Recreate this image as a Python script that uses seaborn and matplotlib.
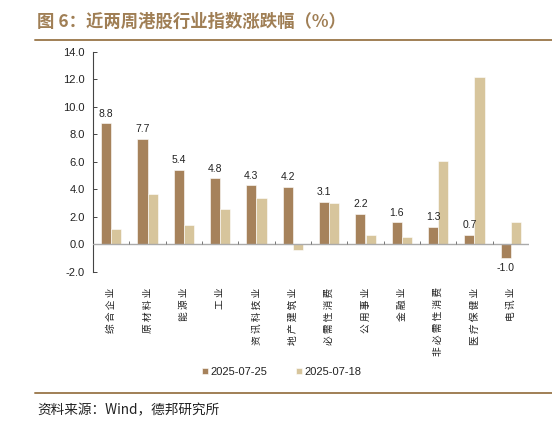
import numpy as np
import pandas as pd
import matplotlib
matplotlib.use('Agg')
import matplotlib.pyplot as plt
import seaborn as sns

categories = ['综合企业', '原材料业', '能源业', '工业', '资讯科技业', '地产建筑业',
              '必需性消费', '公用事业', '金融业', '非必需性消费', '医疗保健业', '电讯业']
wk_0725 = [8.8, 7.7, 5.4, 4.8, 4.3, 4.2, 3.1, 2.2, 1.6, 1.3, 0.7, -1.0]
wk_0718 = [1.1, 3.7, 1.4, 2.6, 3.4, -0.4, 3.0, 0.7, 0.55, 6.1, 12.2, 1.65]
series_names = ['2025-07-25', '2025-07-18']
yticks = np.arange(-2, 14.1, 2)

BROWN = '#a6825b'
LIGHT = '#d7c59c'
TITLE_C = '#a07f55'

sns.set_theme(style='white')
plt.rcParams['font.family'] = ['Liberation Sans', 'Noto Sans CJK SC', 'DejaVu Sans']
CJK = ['Noto Sans CJK SC', 'DejaVu Sans']

df = pd.DataFrame({
    'cat': categories * 2,
    'val': wk_0725 + wk_0718,
    'series': [series_names[0]] * len(categories) + [series_names[1]] * len(categories),
})

fig = plt.figure(figsize=(5.52, 4.34), dpi=100)
ax = fig.add_axes([93 / 552, 1 - 272 / 434, 436 / 552, 220 / 434])

sns.barplot(data=df, x='cat', y='val', hue='series', order=categories,
            hue_order=series_names, palette=[BROWN, LIGHT], width=0.56,
            edgecolor='white', linewidth=0.4, saturation=1, ax=ax)

ax.set_ylim(-2, 14)
ax.set_xlim(-0.5, len(categories) - 0.5)
ax.set_yticks(yticks)
ax.set_yticklabels([f'{v:.1f}' for v in yticks], fontsize=8, color='#222222')
ax.set_xlabel('')
ax.set_ylabel('')
ax.set_xticks(range(len(categories)))
# spaced-out characters like the original
ax.set_xticklabels([' '.join(c) for c in categories], rotation=90, fontsize=7,
                   family=CJK, color='#222222')
ax.tick_params(axis='x', length=0, pad=11)
ax.tick_params(axis='y', direction='in', length=3, width=0.7, color='#444444', pad=6, left=True)

for s in ['top', 'right', 'bottom']:
    ax.spines[s].set_visible(False)
ax.spines['left'].set_color('#444444')
ax.spines['left'].set_linewidth(0.8)

ax.axhline(0, color='#aaaaaa', lw=1, zorder=3)
bounds = np.arange(len(categories)) + 0.5
ax.vlines(bounds, 0, 0.22, color='#777777', lw=0.7, zorder=3)

# value labels for the latest week
for bar, v in zip(ax.containers[0], wk_0725):
    x = bar.get_x() + bar.get_width() / 2
    if v >= 0:
        ax.text(x, v + 0.35, f'{v:.1f}', ha='center', va='bottom', fontsize=7.5, color='#222222')
    else:
        ax.text(x, v - 0.35, f'{v:.1f}', ha='center', va='top', fontsize=7.5, color='#222222')

leg = ax.legend(loc='center', bbox_to_anchor=(0.432, (272 - 372) / 220), ncol=2, frameon=False,
                fontsize=8, handlelength=0.55, handleheight=0.55, handletextpad=0.2,
                columnspacing=2.6)
for t in leg.get_texts():
    t.set_color('#222222')

fig.text(37 / 552, 1 - 22 / 434, '图 6：近两周港股行业指数涨跌幅（%）', fontsize=12.5,
         fontweight='bold', color=TITLE_C, family=CJK, va='center', ha='left')
fig.add_artist(plt.Line2D([35 / 552, 1], [1 - 40 / 434] * 2, color=TITLE_C, lw=1.4))
fig.add_artist(plt.Line2D([35 / 552, 1], [1 - 393 / 434] * 2, color=TITLE_C, lw=1.4))
fig.text(37 / 552, 1 - 410 / 434, '资料来源：Wind，德邦研究所', fontsize=9.8,
         color='#222222', family=CJK, va='center', ha='left')

fig.savefig('out.png', dpi=100)
